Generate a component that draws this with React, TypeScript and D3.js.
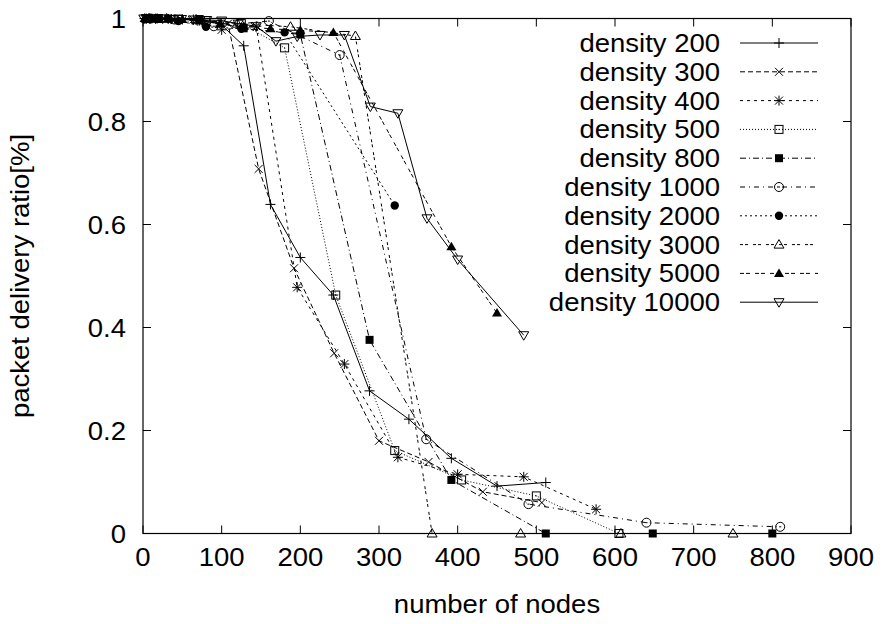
import React from "react";
import * as d3 from "d3";

const densities = ["200", "300", "400", "500", "800", "1000", "2000", "3000", "5000", "10000"];

const nodes200 = [2, 8, 18, 32, 50, 72, 98, 128, 162, 200, 242, 288, 338, 392, 450, 512];
const ratio200 = [1, 1, 1, 0.999, 0.998, 0.996, 0.99, 0.947, 0.639, 0.536, 0.463, 0.277, 0.222, 0.146, 0.092, 0.099];

const nodes300 = [3, 12, 27, 48, 75, 108, 147, 192, 243, 300, 363, 432, 507];
const ratio300 = [1, 1, 1, 0.999, 0.997, 0.99, 0.708, 0.515, 0.35, 0.18, 0.139, 0.081, 0.06];

const nodes400 = [4, 16, 36, 64, 100, 144, 196, 256, 324, 400, 484, 576];
const ratio400 = [1, 1, 0.999, 0.998, 0.978, 0.985, 0.478, 0.329, 0.148, 0.115, 0.11, 0.047];

const nodes500 = [5, 20, 45, 80, 125, 180, 245, 320, 405, 500, 605];
const ratio500 = [1, 1, 0.999, 0.996, 0.99, 0.943, 0.463, 0.161, 0.104, 0.073, 0];

const nodes800 = [8, 32, 72, 128, 200, 288, 392, 512, 648, 800];
const ratio800 = [1, 1, 0.999, 0.981, 0.969, 0.376, 0.104, 0, 0, 0];

const nodes1000 = [10, 40, 90, 160, 250, 360, 490, 640, 810];
const ratio1000 = [1, 0.998, 0.985, 0.995, 0.929, 0.183, 0.057, 0.021, 0.013];

const nodes2000 = [5, 20, 45, 80, 125, 180, 320];
const ratio2000 = [1, 1, 0.995, 0.984, 0.98, 0.973, 0.637];

const nodes3000 = [7.5, 30, 67.5, 120, 187.5, 270, 367.5, 480, 607.5, 750];
const ratio3000 = [1, 1, 0.998, 0.99, 0.984, 0.966, 0, 0, 0, 0];

const nodes5000 = [2, 8, 18, 32, 50, 72, 98, 128, 162, 200, 242, 392, 450];
const ratio5000 = [1, 1, 1, 0.999, 0.998, 0.995, 0.99, 0.985, 0.98, 0.977, 0.973, 0.557, 0.428];

const nodes10000 = [1, 4, 9, 16, 25, 36, 49, 64, 81, 100, 121, 144, 169, 196, 225, 256, 289, 324, 361, 400, 484];
const ratio10000 = [1, 1, 1, 1, 1, 0.999, 0.999, 0.998, 0.997, 0.996, 0.99, 0.985, 0.956, 0.965, 0.968, 0.968, 0.829, 0.816, 0.612, 0.532, 0.385];

const xTicks = [0, 100, 200, 300, 400, 500, 600, 700, 800, 900];
const yTicks = [0, 0.2, 0.4, 0.6, 0.8, 1];
const yTickLabels = ["0", "0.2", "0.4", "0.6", "0.8", "1"];

const allNodes = [nodes200, nodes300, nodes400, nodes500, nodes800, nodes1000, nodes2000, nodes3000, nodes5000, nodes10000];
const allRatios = [ratio200, ratio300, ratio400, ratio500, ratio800, ratio1000, ratio2000, ratio3000, ratio5000, ratio10000];

const dashes = ["none", "5,3", "3,4", "1,2", "6,3,1,3", "5,4,1,4", "2,3", "3,2,3,5", "4,2,4,5", "none"];
const markers = ["plus", "cross", "star", "sqOpen", "sqFill", "circOpen", "circFill", "triOpen", "triFill", "triDown"];

const W = 885;
const H = 624;
const L = 143, R = 851, T = 18.5, B = 533.5;
const FONT = "'Liberation Sans', Arial, Helvetica, sans-serif";
const FS = 25;
const SX = 1.1;

function Marker({ type, x, y }: { type: string; x: number; y: number }) {
  const s = 5;
  const st = { stroke: "#000", strokeWidth: 1, fill: "none" } as const;
  switch (type) {
    case "plus":
      return <path d={`M${x - s},${y}H${x + s}M${x},${y - s}V${y + s}`} {...st} />;
    case "cross":
      return <path d={`M${x - 4},${y - 4}L${x + 4},${y + 4}M${x - 4},${y + 4}L${x + 4},${y - 4}`} {...st} />;
    case "star":
      return (
        <path
          d={`M${x - s},${y}H${x + s}M${x},${y - s}V${y + s}M${x - 4},${y - 4}L${x + 4},${y + 4}M${x - 4},${y + 4}L${x + 4},${y - 4}`}
          {...st}
        />
      );
    case "sqOpen":
      return (
        <g>
          <rect x={x - 4} y={y - 4} width={8} height={8} {...st} />
          <rect x={x - 0.5} y={y - 0.5} width={1} height={1} fill="#000" />
        </g>
      );
    case "sqFill":
      return <rect x={x - 4} y={y - 4} width={8} height={8} fill="#000" />;
    case "circOpen":
      return (
        <g>
          <circle cx={x} cy={y} r={4.5} {...st} />
          <rect x={x - 1} y={y - 0.5} width={2} height={1} fill="#000" />
        </g>
      );
    case "circFill":
      return <circle cx={x} cy={y} r={4.2} fill="#000" />;
    case "triOpen":
      return <path d={`M${x},${y - 5}L${x + 5},${y + 3.5}L${x - 5},${y + 3.5}Z`} {...st} />;
    case "triFill":
      return <path d={`M${x},${y - 5}L${x + 5},${y + 3.5}L${x - 5},${y + 3.5}Z`} fill="#000" />;
    case "triDown":
      return <path d={`M${x},${y + 5}L${x + 5},${y - 3.5}L${x - 5},${y - 3.5}Z`} {...st} />;
  }
  return null;
}

function Txt({ x, y, anchor, children, rotate }: any) {
  const tr = rotate ? `translate(${x},${y}) rotate(-90) scale(${SX},1)` : `translate(${x},${y}) scale(${SX},1)`;
  return (
    <text transform={tr} textAnchor={anchor} fontFamily={FONT} fontSize={FS} fill="#000">
      {children}
    </text>
  );
}

export default function App() {
  const x = d3.scaleLinear().domain([0, 900]).range([L, R]);
  const y = d3.scaleLinear().domain([0, 1]).range([B, T]);
  const line = d3
    .line<[number, number]>()
    .x((d) => x(d[0]))
    .y((d) => y(d[1]));

  const series = densities.map((d, i) => ({
    name: `density ${d}`,
    pts: allNodes[i].map((n, j) => [n, allRatios[i][j]] as [number, number]),
    dash: dashes[i],
    marker: markers[i],
  }));

  const legendX1 = 740, legendX2 = 818, legendTextX = 720, legendY0 = 43, legendDy = 28.8;

  return (
    <svg width={W} height={H} style={{ position: "absolute", left: 0, top: 0, background: "#fff" }}>
      <rect x={0} y={0} width={W} height={H} fill="#fff" />
      {xTicks.map((t) => (
        <g key={`xt${t}`}>
          <line x1={x(t)} x2={x(t)} y1={B} y2={B - 8} stroke="#000" />
          <line x1={x(t)} x2={x(t)} y1={T} y2={T + 8} stroke="#000" />
          <Txt x={x(t)} y={B + 32} anchor="middle">{String(t)}</Txt>
        </g>
      ))}
      {yTicks.map((t, i) => (
        <g key={`yt${t}`}>
          <line x1={L} x2={L + 8} y1={y(t)} y2={y(t)} stroke="#000" />
          <line x1={R} x2={R - 8} y1={y(t)} y2={y(t)} stroke="#000" />
          <Txt x={L - 17} y={y(t) + 9} anchor="end">{yTickLabels[i]}</Txt>
        </g>
      ))}
      {series.map((s) => (
        <g key={s.name}>
          <path d={line(s.pts) || ""} fill="none" stroke="#000" strokeWidth={1} strokeDasharray={s.dash} />
          {s.pts.map((p, j) => (
            <Marker key={j} type={s.marker} x={x(p[0])} y={y(p[1])} />
          ))}
        </g>
      ))}
      {series.map((s, i) => {
        const ly = legendY0 + i * legendDy;
        return (
          <g key={`lg${i}`}>
            <Txt x={legendTextX} y={ly + 9} anchor="end">{s.name}</Txt>
            <line x1={legendX1} x2={legendX2} y1={ly} y2={ly} stroke="#000" strokeDasharray={s.dash} />
            <Marker type={s.marker} x={(legendX1 + legendX2) / 2} y={ly} />
          </g>
        );
      })}
      <rect x={L} y={T} width={R - L} height={B - T} fill="none" stroke="#000" strokeWidth={1.2} />
      <Txt x={(L + R) / 2} y={613} anchor="middle">number of nodes</Txt>
      <Txt x={29} y={(T + B) / 2} anchor="middle" rotate>packet delivery ratio[%]</Txt>
    </svg>
  );
}
